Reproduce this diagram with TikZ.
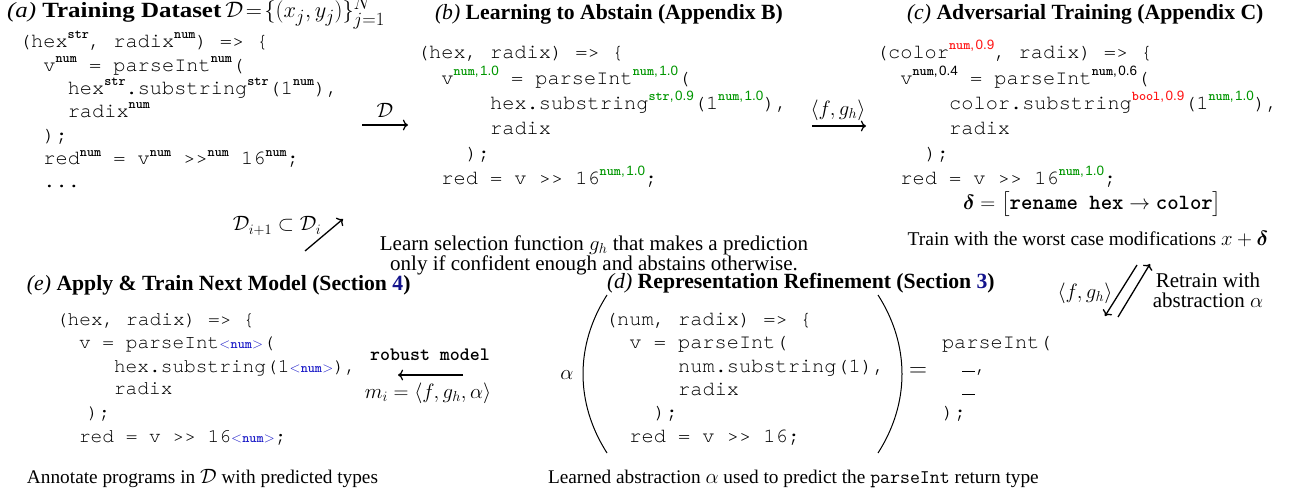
\documentclass[tikz,border=0pt]{standalone}
\usepackage{amsmath,bm}
\usepackage{fontspec}
\setmainfont{Liberation Serif}
\setsansfont{Liberation Sans}
\newfontfamily\cour{TeX Gyre Cursor}
\usetikzlibrary{arrows.meta}
\definecolor{tgreen}{RGB}{0,150,0}
\definecolor{tred}{RGB}{255,20,20}
\definecolor{tblue}{RGB}{30,30,200}
\definecolor{secblue}{RGB}{20,20,140}
\newcommand{\cdA}{\cour\fontsize{20.3}{24}\selectfont}
\newcommand{\cdE}{\cour\fontsize{19.5}{24}\selectfont}
\newcommand{\supA}[1]{\raisebox{9pt}{\fontsize{13.5}{14}\selectfont\ttfamily\bfseries #1}}
\newcommand{\supB}[3][black]{\raisebox{9pt}{\color{#1}\fontsize{13.5}{14}\selectfont{\ttfamily\bfseries #2}{\sffamily,\kern1.5pt#3}}}
\newcommand{\tsub}{\raisebox{-0.5pt}{\color{tblue}\fontsize{13.5}{14}\selectfont$<$\kern0.3pt{\ttfamily\bfseries num}\kern0.3pt$>$}}
\begin{document}
\begin{tikzpicture}[x=1pt,y=-1pt,
  every node/.style={inner sep=0pt,outer sep=0pt},
  ca/.style={anchor=base west,font=\cdA},
  ce/.style={anchor=base west,font=\cdE},
  ttl/.style={anchor=base west,font=\fontsize{21.7}{24}\selectfont},
  captxt/.style={anchor=base,font=\fontsize{21}{24}\selectfont},
  capb/.style={anchor=base west,font=\fontsize{19.3}{22}\selectfont},
  lbl/.style={font=\fontsize{21}{24}\selectfont},
  arr/.style={line width=1.3pt,-{Computer Modern Rightarrow[scale=1.15]}},
  paren/.style={line width=1pt}]
\useasboundingbox (0,0) rectangle (1300,497);
% titles
\node[ttl] (ta) at (7,18) {\scalebox{1.15}[1]{\textit{(a)} \textbf{Training Dataset}}\kern4pt\scalebox{0.9}{\fontsize{24.88}{26}\selectfont$\mathcal{D}\!=\!\{(x_j,y_j)\}_{j=1}^{N}$}};
\node[ttl] (tb) at (435,20) {\textit{(b)} \textbf{Learning to Abstain (Appendix B)}};
\node[ttl] (tc) at (907,20) {\textit{(c)} \textbf{Adversarial Training (Appendix C)}};
\node[ttl] (td) at (607,288) {\textit{(d)} \textbf{Representation Refinement (Section {\color{secblue}3})}};
\node[ttl] (te) at (27,290) {\textit{(e)} \textbf{Apply \& Train Next Model (Section {\color{secblue}4})}};
% (a)
\node[ca] (a1) at (19,48) {(hex\supA{str}, radix\supA{num}) => \{};
\node[ca] (a2) at (43.4,71.5) {v\supA{num} = parseInt\supA{num}(};
\node[ca] (a3) at (67.8,95) {hex\supA{str}.substring\supA{str}(1\supA{num}),};
\node[ca] (a4) at (67.8,118) {radix\supA{num}};
\node[ca] (a5) at (43.4,141.5) {);};
\node[ca] (a6) at (43.4,165) {red\supA{num} = v\supA{num} >>\supA{num} 16\supA{num};};
\node[ca] (a7) at (43.4,188) {...};
% (b)
\node[ca] (b1) at (417,59) {(hex, radix) => \{};
\node[ca] (b2) at (441.4,84.2) {v\supB[tgreen]{num}{1.0} = parseInt\supB[tgreen]{num}{1.0}(};
\node[ca] (b3) at (490.2,109.4) {hex.substring\supB[tgreen]{str}{0.9}(1\supB[tgreen]{num}{1.0}),};
\node[ca] (b4) at (490.2,134.6) {radix};
\node[ca] (b5) at (465.8,159.8) {);};
\node[ca] (b6) at (441.4,185) {red = v >> 16\supB[tgreen]{num}{1.0};};
\node[captxt] (bt1) at (594,250) {Learn selection function $g_h$ that makes a prediction};
\node[captxt] (bt2) at (594,270) {only if confident enough and abstains otherwise.};
% (c)
\node[ca] (c1) at (876,59) {(color\supB[tred]{num}{0.9}, radix) => \{};
\node[ca] (c2) at (900.4,84.2) {v\supB{num}{0.4} = parseInt\supB{num}{0.6}(};
\node[ca] (c3) at (949.2,109.4) {color.substring\supB[tred]{bool}{0.9}(1\supB[tgreen]{num}{1.0}),};
\node[ca] (c4) at (949.2,134.6) {radix};
\node[ca] (c5) at (924.8,159.8) {);};
\node[ca] (c6) at (900.4,185) {red = v >> 16\supB[tgreen]{num}{1.0};};
\node[anchor=base west,font=\fontsize{21.7}{24}\selectfont] (delta) at (963,209) {$\boldsymbol{\delta}=\big[\text{\ttfamily\bfseries rename hex}\rightarrow\text{\ttfamily\bfseries color}\big]$};
\node[anchor=base,font=\fontsize{19.5}{22}\selectfont] (ct) at (1088,245) {Train with the worst case modifications $x+\boldsymbol{\delta}$};
% (d)
\node[font=\fontsize{21}{24}\selectfont] (alpha) at (567,375) {$\alpha$};
\draw[paren] (607,295) .. controls (575,345) and (575,403) .. (607,453);
\draw[paren] (878,295) .. controls (910,345) and (910,403) .. (878,453);
\node[ca] (d1) at (605,325) {(num, radix) => \{};
\node[ca] (d2) at (629.4,348) {v = parseInt(};
\node[ca] (d3) at (678.2,372) {num.substring(1),};
\node[ca] (d4) at (678.2,395) {radix};
\node[ca] (d5) at (653.8,418) {);};
\node[ca] (d6) at (629.4,442) {red = v >> 16;};
\node[font=\fontsize{25}{28}\selectfont] (eq) at (918,372) {$=$};
\node[ca] (r1) at (942,348) {parseInt(};
\node[ca] (r2) at (962,372) {\rule{13pt}{1.2pt},};
\node[ca] (r3) at (962,395) {\rule{13pt}{1.2pt}};
\node[ca] (r4) at (942,418) {);};
\node[capb] (dt) at (548,483) {Learned abstraction $\alpha$ used to predict the \texttt{parseInt} return type};
% (e)
\node[ce] (e1) at (56,325) {(hex, radix) => \{};
\node[ce] (e2) at (79,348) {v = parseInt\tsub(};
\node[ce] (e3) at (114,372) {hex.substring(1\tsub),};
\node[ce] (e4) at (114,394) {radix};
\node[ce] (e5) at (87,418) {);};
\node[ce] (e6) at (79,442) {red = v >> 16\tsub;};
\node[capb] (et) at (27,483) {Annotate programs in $\mathcal{D}$ with predicted types};
\node[anchor=base,font=\fontsize{19}{22}\selectfont\ttfamily\bfseries] (rm) at (430,360) {robust model};
\node[lbl,anchor=base] (mi) at (428,398) {$m_i=\langle f,g_h,\alpha\rangle$};
% connectors
\coordinate (ab1) at (362,125); \coordinate (ab2) at (408,125);
\draw[arr] (ab1) -- (ab2);
\node[lbl] (lD) at (385,110) {$\mathcal{D}$};
\coordinate (bc1) at (812,126); \coordinate (bc2) at (866,126);
\draw[arr] (bc1) -- (bc2);
\node[lbl] (lfg) at (838,110) {$\langle f,g_h\rangle$};
\coordinate (ea1) at (305,251); \coordinate (ea2) at (343,219);
\draw[arr] (ea1) -- (ea2);
\node[lbl] (lDi) at (277,226) {$\mathcal{D}_{i+1}\subset\mathcal{D}_i$};
\coordinate (cd1) at (1137,265); \coordinate (cd2) at (1105,316);
\draw[arr] (cd1) -- (cd2);
\coordinate (dc1) at (1118,317); \coordinate (dc2) at (1150,264);
\draw[arr] (dc1) -- (dc2);
\node[lbl] (lfg2) at (1085,293) {$\langle f,g_h\rangle$};
\node[captxt] (rt1) at (1208,287) {Retrain with};
\node[captxt] (rt2) at (1208,307) {abstraction $\alpha$};
\coordinate (rmA) at (463,375); \coordinate (rmB) at (398,375);
\draw[arr] (rmA) -- (rmB);
\end{tikzpicture}
\end{document}
